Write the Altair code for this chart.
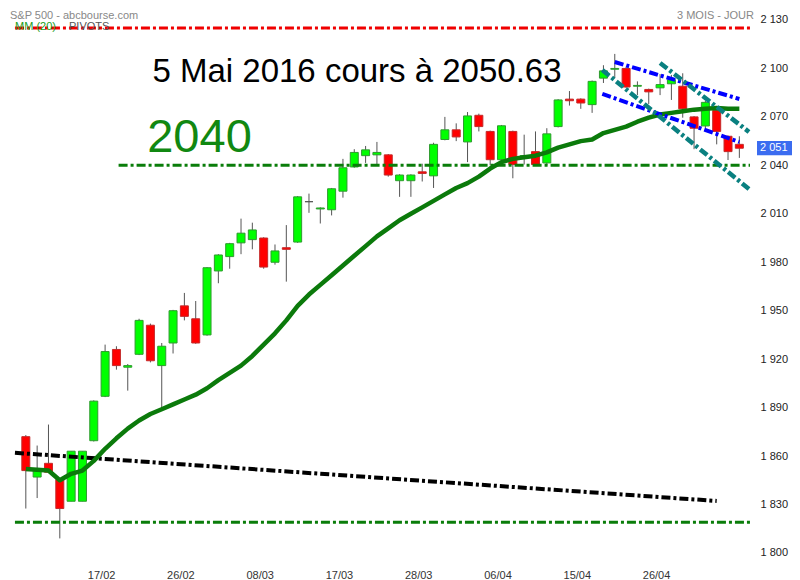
import json
import altair as alt
import pandas as pd

# ---- data (one candle per trading slot) ----
opens = [1872, 1847, 1855.5, 1845.5, 1832, 1832, 1869.5, 1897, 1926, 1915,
         1923, 1941, 1916, 1930, 1953, 1945, 1935, 1974.6, 1983.5, 1992,
         1994, 1995, 1980, 1989, 1992.5, 2017.5, 2013, 2012.5, 2024, 2039,
         2046, 2046.5, 2046.5, 2030.5, 2030.5, 2036, 2033.5, 2056, 2062, 2054.5,
         2071, 2061, 2043.5, 2061, 2044.6, 2048.5, 2041.5, 2064, 2081, 2081,
         2077.6, 2094, 2099.5, 2100, 2089, 2087, 2088, 2090.5, 2089, 2070,
         2064.4, 2074, 2058, 2053]
highs = [1873, 1866.5, 1879.5, 1846, 1863, 1863, 1894.5, 1929, 1928, 1917,
         1945, 1942, 1930, 1950.5, 1961, 1956, 1977, 1985, 1992, 2007,
         2004.5, 1995.5, 1991, 2003, 2021, 2022.5, 2014, 2026, 2044, 2050,
         2052, 2054.5, 2047, 2034.5, 2034.5, 2041, 2054, 2070, 2066, 2073,
         2072, 2061.5, 2065, 2061.5, 2059, 2061, 2063, 2081, 2086, 2081.5,
         2092.5, 2102, 2109, 2101, 2092, 2087.5, 2096.5, 2096, 2097, 2070.5,
         2080, 2075, 2058.5, 2058]
lows = [1827.5, 1834, 1850, 1809, 1832, 1832, 1869, 1896.5, 1913.5, 1900.5,
        1922.5, 1918, 1889.5, 1923.5, 1944, 1929.5, 1934.5, 1967, 1976, 1985,
        1988, 1976, 1978.5, 1968, 1992, 2010.6, 2004, 2009, 2020, 2038.5,
        2041.5, 2040, 2033, 2020.5, 2020.5, 2030, 2026, 2055.5, 2055, 2042,
        2061, 2040, 2043, 2032, 2040.5, 2040, 2040, 2063.5, 2077, 2075,
        2072.5, 2091, 2094, 2088, 2083.5, 2078, 2083.5, 2080.5, 2069.5, 2050,
        2063, 2053, 2043.3, 2044.6]
closes = [1851, 1851, 1850, 1827.5, 1863, 1863, 1894, 1924.7, 1916, 1916,
          1944, 1919, 1928, 1950, 1946.5, 1930, 1976.6, 1984.5, 1991.5, 1998,
          2000, 1977, 1987, 1988, 2020.5, 2017.5, 2013.6, 2025.5, 2038.5, 2048,
          2049.6, 2048, 2034, 2034, 2034, 2035, 2053, 2062, 2057.6, 2070.6,
          2064, 2043.5, 2064.5, 2040.5, 2046, 2040.5, 2059.5, 2080.5, 2080, 2078.6,
          2092, 2098.5, 2100, 2088.5, 2089.5, 2085.5, 2090, 2093, 2075, 2063,
          2079, 2061, 2048.5, 2050.6]
ma20 = [1852, 1851.5, 1851, 1845, 1849, 1851, 1857, 1864.5, 1871, 1877,
        1882, 1886, 1889, 1892, 1895, 1898, 1902, 1907, 1911.5, 1916,
        1922, 1929, 1936, 1944, 1953, 1960, 1966, 1972, 1978, 1984,
        1990, 1996, 2001, 2006, 2010, 2014, 2018, 2022, 2026, 2029,
        2033, 2038, 2042, 2044, 2045, 2046, 2048, 2051, 2053, 2055,
        2056, 2060, 2062, 2064, 2067, 2069.5, 2071.5, 2072.5, 2073.5, 2074.5,
        2075, 2075.5, 2075, 2075]

x_tick_idx = [7, 14, 21, 28, 35, 42, 49, 56]
x_tick_labels = ["17/02", "26/02", "08/03", "17/03", "28/03", "06/04", "15/04", "26/04"]
y_ticks = [1800, 1830, 1860, 1890, 1920, 1950, 1980, 2010, 2040, 2070, 2100, 2130]

# horizontal levels: value, start idx, end idx
h_levels = [2125, 2040, 1819]
h_start = [-0.96, 8.19, -0.96]
h_end = [63.94, 63.94, 63.94]
h_colors = ["#f00000", "#0a7d0a", "#0a7d0a"]

# trend lines: (idx, value) pairs
black_idx = [-0.96, 61]
black_val = [1862, 1832.2]
blue_up_idx = [52, 63]
blue_up_val = [2104, 2081.1]
blue_lo_idx = [50.9, 63]
blue_lo_val = [2084.2, 2054.5]
teal_up_idx = [56, 63.85]
teal_up_val = [2103.4, 2060.7]
teal_lo_idx = [50.9, 63.85]
teal_lo_val = [2099, 2025.4]

last_close = 2050.63
last_label = "2 051"
title_text = "5 Mai 2016 cours à 2050.63"
level_text = "2040"
source_text = "S&P 500 - abcbourse.com"
period_text = "3 MOIS - JOUR"

# ---- tables ----
n = len(opens)
df = pd.DataFrame({"idx": list(range(n)), "open": opens, "high": highs,
                   "low": lows, "close": closes, "ma": ma20})
df["dir"] = ["up" if c > o else ("down" if c < o else "doji") for o, c in zip(opens, closes)]

hdf = pd.DataFrame({"v": h_levels, "x0": h_start, "x1": h_end, "c": h_colors})

def seg(ix, vals, name):
    return pd.DataFrame({"idx": ix, "v": vals, "name": name})

FONT = "Liberation Sans"
xs = alt.Scale(domain=[-1.1324, 63.94], nice=False, zero=False)
ys = alt.Scale(domain=[1796.87, 2137.43], nice=False, zero=False)

x_axis = alt.Axis(values=x_tick_idx,
                  labelExpr=f"{json.dumps(x_tick_labels)}[indexof({json.dumps(x_tick_idx)}, datum.value)]",
                  ticks=False, domain=False, grid=False, labelPadding=11.5,
                  labelFontSize=11, labelColor="#333333", labelOffset=-4,
                  labelFlush=False, labelOverlap=False, title=None, labelFont=FONT)
y_axis = alt.Axis(orient="right", values=y_ticks,
                  labelExpr="replace(format(datum.value, ','), ',', ' ')",
                  ticks=False, domain=False, grid=False, labelPadding=5,
                  labelFontSize=11, labelColor="#222222", labelFlush=False,
                  labelOverlap=False, title=None, labelFont=FONT)

base = alt.Chart(df)

wicks = base.mark_rule(color="#555555", strokeWidth=1).encode(
    x=alt.X("idx:Q", scale=xs, axis=x_axis),
    y=alt.Y("low:Q", scale=ys, axis=y_axis),
    y2="high:Q",
)

dir_scale_fill = alt.Scale(domain=["up", "down", "doji"], range=["#00ff00", "#ff0000", "#555555"])
dir_scale_stroke = alt.Scale(domain=["up", "down", "doji"], range=["#2f9a2f", "#c42a2a", "#555555"])

bodies = base.mark_bar(size=8, strokeWidth=1).encode(
    x="idx:Q",
    y="open:Q",
    y2="close:Q",
    fill=alt.Fill("dir:N", scale=dir_scale_fill, legend=None),
    stroke=alt.Stroke("dir:N", scale=dir_scale_stroke, legend=None),
)

DASH = [9, 3, 3, 3]

hlines = alt.Chart(hdf).mark_rule(strokeWidth=3, strokeDash=DASH).encode(
    x="x0:Q", x2="x1:Q", y="v:Q",
    color=alt.Color("c:N", scale=None, legend=None),
)

ma_line = base.mark_line(color="#0b7a0b", strokeWidth=4.5, strokeJoin="round").encode(
    x="idx:Q", y="ma:Q")

def trend(ix, vals, name, color, width):
    return alt.Chart(seg(ix, vals, name)).mark_line(
        color=color, strokeWidth=width, strokeDash=DASH).encode(x="idx:Q", y="v:Q")

black = trend(black_idx, black_val, "black", "#000000", 4)
blue_up = trend(blue_up_idx, blue_up_val, "blue_up", "#0000ff", 4)
blue_lo = trend(blue_lo_idx, blue_lo_val, "blue_lo", "#0000ff", 4)
teal_up = trend(teal_up_idx, teal_up_val, "teal_up", "#0a8080", 4.5)
teal_lo = trend(teal_lo_idx, teal_lo_val, "teal_lo", "#0a8080", 4.5)

tag_df = pd.DataFrame({"v": [last_close], "top": [last_close + 4.4], "bot": [last_close - 4.4],
                       "t": [last_label]})
tag_box = alt.Chart(tag_df).mark_rect(color="#3b6cf0").encode(
    x=alt.value(749), x2=alt.value(790), y="top:Q", y2="bot:Q")
tag_txt = alt.Chart(tag_df).mark_text(align="left", baseline="middle", color="white",
                                      fontSize=11, font=FONT).encode(
    x=alt.value(752), y="v:Q", text="t:N")

def label(txt, x, y, size, color, align="left", baseline="middle"):
    return alt.Chart(pd.DataFrame({"t": [txt]})).mark_text(
        align=align, baseline=baseline, fontSize=size, color=color, font=FONT).encode(
        x=alt.value(x), y=alt.value(y), text="t:N")

t_title = label(title_text, 349, 74, 33, "#000000", align="center", baseline="alphabetic")
t_level = label(level_text, 191.5, 143.7, 47, "#118811", align="center", baseline="alphabetic")
t_source = label(source_text, 2, 7.5, 11, "#888888")
t_mm = label("MM (20)", 7, 19, 11, "#22a022")
t_piv = label("PIVOTS", 61, 19, 11, "#555555")
t_period = label(period_text, 746, 7.5, 11, "#888888", align="right")

chart = alt.layer(
    wicks, bodies, hlines, black, ma_line, blue_up, blue_lo, teal_up, teal_lo,
    tag_box, tag_txt, t_title, t_level, t_source, t_mm, t_piv, t_period,
).properties(
    width=747, height=550,
    padding={"left": 0, "top": 0, "right": 37, "bottom": 24},
    autosize=alt.AutoSizeParams(type="none"),
    background="white",
).configure(font=FONT, view=alt.ViewConfig(stroke=None))

chart.save("out.html", embed_options={"renderer": "svg", "actions": False})
